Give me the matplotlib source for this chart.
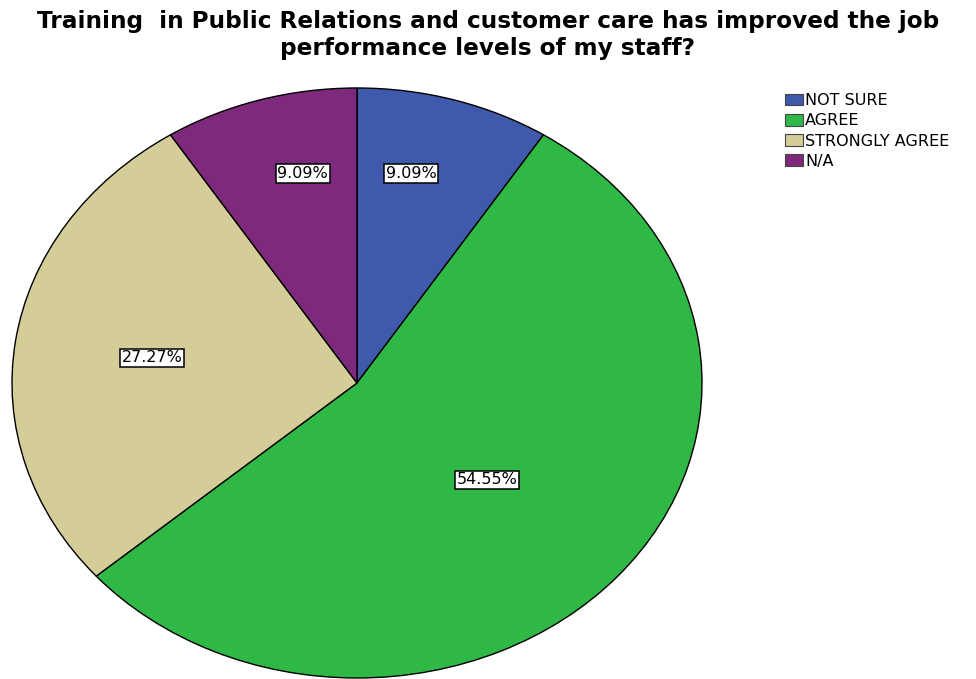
import matplotlib
matplotlib.use("Agg")
import matplotlib.pyplot as plt
from matplotlib.patches import Patch
import numpy as np

plt.rcParams['font.family'] = ['DejaVu Sans']

categories = ["NOT SURE", "AGREE", "STRONGLY AGREE", "N/A"]
values = [9.09, 54.55, 27.27, 9.09]
colors = ["#3f5aad", "#2fb846", "#d4cd98", "#7d2a7c"]
title_lines = ["Training  in Public Relations and customer care has improved the job",
               "performance levels of my staff?"]
label_rx = [0.56, 0.50, 0.60, 0.56]
label_ry = [0.74, 0.50, 0.60, 0.74]

W, H = 976, 679
fig = plt.figure(figsize=(W / 100, H / 100), dpi=100)
ax = fig.add_axes([12 / W, 1 / H, 690 / W, 590 / H])

wedges, _ = ax.pie(values, colors=colors, startangle=90, counterclock=False,
                   wedgeprops=dict(edgecolor="black", linewidth=1.0))
ax.set_aspect('auto')
ax.set_xlim(-1.0, 1.0)
ax.set_ylim(-1.0, 1.0)

for w, v, rx, ry in zip(wedges, values, label_rx, label_ry):
    ang = np.deg2rad((w.theta1 + w.theta2) / 2)
    x, y = rx * np.cos(ang), ry * np.sin(ang)
    ax.text(x, y, f"{v:.2f}%", ha="center", va="center", fontsize=11.5,
            bbox=dict(boxstyle="square,pad=0.1", facecolor="white",
                      edgecolor="black", linewidth=1.1))

fig.text(0.5, 1 - 28 / H, title_lines[0], ha="center", va="baseline",
         fontsize=16.7, fontweight="bold")
fig.text(0.5, 1 - 55 / H, title_lines[1], ha="center", va="baseline",
         fontsize=16.7, fontweight="bold")

handles = [Patch(facecolor=c, edgecolor="#444444", linewidth=0.8) for c in colors]
fig.legend(handles, categories, loc="upper left", bbox_to_anchor=(785 / W, 1 - 93 / H),
           frameon=False, fontsize=11.5, handlelength=1.15, handleheight=0.75,
           handletextpad=0.12, labelspacing=0.33, borderaxespad=0, borderpad=0)

fig.savefig("out.png", dpi=100)
